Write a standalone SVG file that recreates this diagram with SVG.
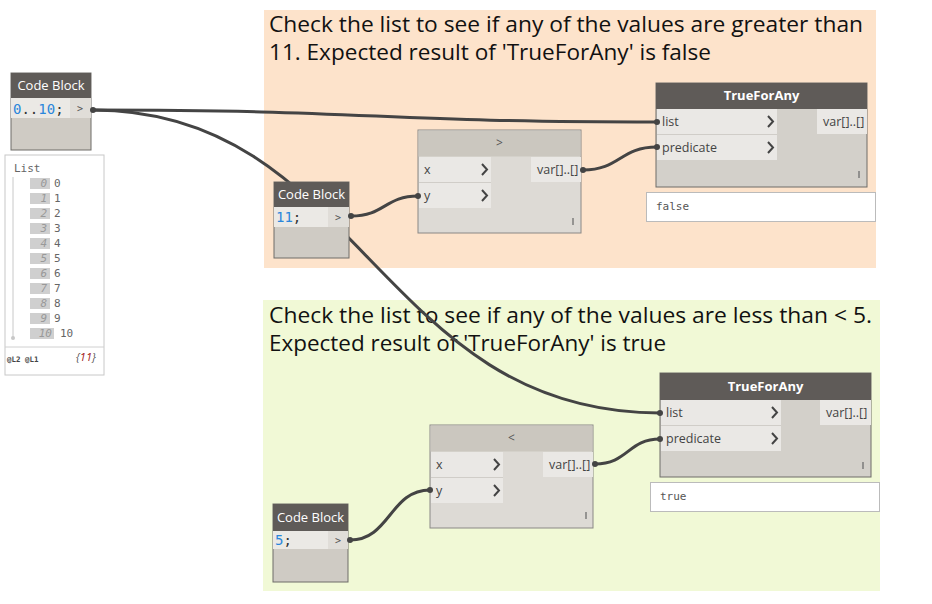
<svg xmlns="http://www.w3.org/2000/svg" width="932" height="604" viewBox="0 0 932 604">
<style>
.hdr{fill:#5f5b58}
.hdrL{fill:#cbc7bf}
.body{fill:#cfcbc4;stroke:#6e6c69;stroke-width:1}
.bodyL{fill:#dddad5;stroke:#8a8885;stroke-width:1}
.port{fill:#eae8e5}
.sep{stroke:#d0cdc8;stroke-width:1}
.ht{font-family:"Open Sans","Noto Sans",sans-serif;font-size:13px;fill:#ffffff;text-anchor:middle}
.htd{font-family:"Open Sans","Noto Sans",sans-serif;font-size:12px;fill:#555;text-anchor:middle}
.pt{font-family:"Open Sans","Noto Sans",sans-serif;font-size:12.5px;fill:#444}
.chev{fill:none;stroke:#444;stroke-width:2}
.mono{font-family:"DejaVu Sans Mono","Liberation Mono",monospace}
.note{font-family:"Open Sans","Noto Sans",sans-serif;font-size:22px;fill:#111}
.wire{fill:none;stroke:#444;stroke-width:3}
.res{fill:#fff;stroke:#bbb;stroke-width:1}
.rt{font-family:"DejaVu Sans Mono","Liberation Mono",monospace;font-size:11px;fill:#555}
.idx{fill:#cfcfcf}
.it{font-family:"DejaVu Sans Mono","Liberation Mono",monospace;font-size:11px;fill:#999;font-style:italic;text-anchor:end}
.vt{font-family:"DejaVu Sans Mono","Liberation Mono",monospace;font-size:11px;fill:#666}
</style>

<g id="group-greater">
<rect x="264" y="10" width="612" height="258" fill="#fde3cb"/>
<text class="note" x="269" y="32" textLength="594" lengthAdjust="spacingAndGlyphs">Check the list to see if any of the values are greater than</text>
<text class="note" x="269" y="60" textLength="442" lengthAdjust="spacingAndGlyphs">11. Expected result of 'TrueForAny' is false</text>
</g>
<g id="group-less">
<rect x="263" y="300" width="617" height="291" fill="#f1f9d6"/>
<text class="note" x="269" y="323" textLength="603" lengthAdjust="spacingAndGlyphs">Check the list to see if any of the values are less than &lt; 5.</text>
<text class="note" x="269" y="351" textLength="397" lengthAdjust="spacingAndGlyphs">Expected result of 'TrueForAny' is true</text>
</g>

<g id="connectors">
<path class="wire" d="M93,110 C376,110 376,122 657,122"/>
<path class="wire" d="M93,110 C360,110 380,413 660,413"/>
<path class="wire" d="M351,216 C385,216 385,196 418,196"/>
<path class="wire" d="M583,170 C620,170 620,147 657,147"/>
<path class="wire" d="M350,540 C390,540 390,490 430,490"/>
<path class="wire" d="M595,464 C628,464 628,439 660,439"/>
</g>

<g id="codeblock-range">
<rect class="body" x="11" y="73" width="80" height="77"/>
<rect class="hdr" x="11" y="73" width="80" height="25"/>
<text class="ht" x="51" y="90">Code Block</text>
<rect x="11" y="98" width="59" height="20" fill="#ebe9e5"/>
<rect x="70" y="98" width="21" height="20" fill="#e0ddd8"/>
<text class="mono" x="13" y="114" font-size="14"><tspan fill="#2a86db">0</tspan><tspan fill="#333">..</tspan><tspan fill="#2a86db">10</tspan><tspan fill="#333">;</tspan></text>
<text class="mono" x="77" y="112" font-size="10" fill="#555">&gt;</text>
<circle cx="93" cy="110" r="3" fill="#444"/>
</g>

<g id="watch-list">
<rect x="5" y="155" width="99" height="220" fill="#fff" stroke="#c8c8c8"/>
<line x1="5" y1="347" x2="104" y2="347" stroke="#d0d0d0"/>
<text class="vt" x="14" y="172">List</text>
<line x1="13" y1="177" x2="13" y2="337" stroke="#c8c8c8"/>
<circle cx="13" cy="338" r="2" fill="#c8c8c8"/>
<g>
<rect class="idx" x="30" y="178" width="20" height="11"/><text class="it" x="47" y="187">0</text><text class="vt" x="54" y="187">0</text>
<rect class="idx" x="30" y="193" width="20" height="11"/><text class="it" x="47" y="202">1</text><text class="vt" x="54" y="202">1</text>
<rect class="idx" x="30" y="208" width="20" height="11"/><text class="it" x="47" y="217">2</text><text class="vt" x="54" y="217">2</text>
<rect class="idx" x="30" y="223" width="20" height="11"/><text class="it" x="47" y="232">3</text><text class="vt" x="54" y="232">3</text>
<rect class="idx" x="30" y="238" width="20" height="11"/><text class="it" x="47" y="247">4</text><text class="vt" x="54" y="247">4</text>
<rect class="idx" x="30" y="253" width="20" height="11"/><text class="it" x="47" y="262">5</text><text class="vt" x="54" y="262">5</text>
<rect class="idx" x="30" y="268" width="20" height="11"/><text class="it" x="47" y="277">6</text><text class="vt" x="54" y="277">6</text>
<rect class="idx" x="30" y="283" width="20" height="11"/><text class="it" x="47" y="292">7</text><text class="vt" x="54" y="292">7</text>
<rect class="idx" x="30" y="298" width="20" height="11"/><text class="it" x="47" y="307">8</text><text class="vt" x="54" y="307">8</text>
<rect class="idx" x="30" y="313" width="20" height="11"/><text class="it" x="47" y="322">9</text><text class="vt" x="54" y="322">9</text>
<rect class="idx" x="30" y="328" width="24" height="11"/><text class="it" x="52" y="337">10</text><text class="vt" x="60" y="337">10</text>
</g>
<text x="7" y="362" font-family="DejaVu Sans Mono,monospace" font-size="7.5" font-weight="bold" fill="#444">@L2 @L1</text>
<text x="76" y="361" font-family="Open Sans,sans-serif" font-size="11" font-style="italic" fill="#555">{<tspan fill="#a01818">11</tspan>}</text>
</g>

<g id="codeblock-11">
<rect class="body" x="274" y="182" width="75" height="76"/>
<rect class="hdr" x="274" y="182" width="75" height="25"/>
<text class="ht" x="311.5" y="199">Code Block</text>
<rect x="274" y="207" width="54" height="20" fill="#ebe9e5"/>
<rect x="328" y="207" width="21" height="20" fill="#e0ddd8"/>
<text class="mono" x="276" y="222" font-size="14"><tspan fill="#2a86db">11</tspan><tspan fill="#333">;</tspan></text>
<text class="mono" x="335" y="221" font-size="10" fill="#555">&gt;</text>
<circle cx="351" cy="216" r="3" fill="#444"/>
</g>

<g id="greater-node">
<rect class="bodyL" x="418" y="130" width="163" height="103"/>
<rect class="hdrL" x="418.5" y="130.5" width="162" height="26"/>
<text class="htd" x="499.5" y="147">&gt;</text>
<rect class="port" x="419" y="157" width="72" height="25"/>
<rect class="port" x="419" y="183" width="72" height="25"/>
<line class="sep" x1="419" y1="182.5" x2="491" y2="182.5"/>
<text class="pt" x="424" y="174">x</text>
<text class="pt" x="424" y="200">y</text>
<path class="chev" d="M482,164 L487,169.5 L482,175"/>
<path class="chev" d="M482,190 L487,195.5 L482,201"/>
<rect class="port" x="531" y="157" width="50" height="25"/>
<text class="pt" x="537" y="174">var[]..[]</text>
<line x1="573" y1="218" x2="573" y2="225" stroke="#666" stroke-width="1.2"/>
<circle cx="418" cy="196" r="3" fill="#444"/>
<circle cx="583" cy="170" r="3" fill="#444"/>
</g>

<g id="trueforany-1">
<rect class="bodyL" x="656" y="83" width="211" height="104" style="fill:#d3d0ca;stroke:#6e6c69"/>
<rect class="hdr" x="656" y="83" width="211" height="26"/>
<text class="ht" x="761.5" y="100" font-size="12" font-weight="bold">TrueForAny</text>
<rect class="port" x="657" y="109" width="120" height="25"/>
<rect class="port" x="657" y="135" width="120" height="25"/>
<line class="sep" x1="657" y1="134.5" x2="777" y2="134.5"/>
<text class="pt" x="662" y="126">list</text>
<text class="pt" x="662" y="152">predicate</text>
<path class="chev" d="M768,116 L773,121.5 L768,127"/>
<path class="chev" d="M768,142 L773,147.5 L768,153"/>
<rect class="port" x="817" y="109" width="50" height="25"/>
<text class="pt" x="823" y="126">var[]..[]</text>
<line x1="859" y1="171" x2="859" y2="178" stroke="#666" stroke-width="1.2"/>
<circle cx="657" cy="122" r="3" fill="#444"/>
<circle cx="657" cy="147" r="3" fill="#444"/>
<rect class="res" x="646.5" y="192.5" width="229" height="29"/>
<text class="rt" x="656" y="210">false</text>
</g>

<g id="less-node">
<rect class="bodyL" x="430" y="425" width="163" height="103"/>
<rect class="hdrL" x="430.5" y="425.5" width="162" height="26"/>
<text class="htd" x="511.5" y="442">&lt;</text>
<rect class="port" x="431" y="452" width="72" height="25"/>
<rect class="port" x="431" y="478" width="72" height="25"/>
<line class="sep" x1="431" y1="477.5" x2="503" y2="477.5"/>
<text class="pt" x="436" y="469">x</text>
<text class="pt" x="436" y="495">y</text>
<path class="chev" d="M494,459 L499,464.5 L494,470"/>
<path class="chev" d="M494,485 L499,490.5 L494,496"/>
<rect class="port" x="543" y="452" width="50" height="25"/>
<text class="pt" x="549" y="469">var[]..[]</text>
<line x1="586" y1="512" x2="586" y2="519" stroke="#666" stroke-width="1.2"/>
<circle cx="430" cy="490" r="3" fill="#444"/>
<circle cx="595" cy="464" r="3" fill="#444"/>
</g>

<g id="codeblock-5">
<rect class="body" x="273" y="504" width="75" height="78"/>
<rect class="hdr" x="273" y="504" width="75" height="27"/>
<text class="ht" x="310.5" y="522">Code Block</text>
<rect x="273" y="531" width="55" height="18" fill="#ebe9e5"/>
<rect x="328" y="531" width="20" height="18" fill="#e0ddd8"/>
<text class="mono" x="275" y="545" font-size="14"><tspan fill="#2a86db">5</tspan><tspan fill="#333">;</tspan></text>
<text class="mono" x="335" y="544" font-size="10" fill="#555">&gt;</text>
<circle cx="350" cy="540" r="3" fill="#444"/>
</g>

<g id="trueforany-2">
<rect class="bodyL" x="660" y="373" width="211" height="104" style="fill:#d3d0ca;stroke:#6e6c69"/>
<rect class="hdr" x="660" y="373" width="211" height="27"/>
<text class="ht" x="765.5" y="391" font-size="12" font-weight="bold">TrueForAny</text>
<rect class="port" x="661" y="400" width="120" height="25"/>
<rect class="port" x="661" y="426" width="120" height="25"/>
<line class="sep" x1="661" y1="425.5" x2="781" y2="425.5"/>
<text class="pt" x="666" y="417">list</text>
<text class="pt" x="666" y="443">predicate</text>
<path class="chev" d="M772,407 L777,412.5 L772,418"/>
<path class="chev" d="M772,433 L777,438.5 L772,444"/>
<rect class="port" x="820" y="400" width="51" height="25"/>
<text class="pt" x="826" y="417">var[]..[]</text>
<line x1="863" y1="462" x2="863" y2="469" stroke="#666" stroke-width="1.2"/>
<circle cx="660" cy="413" r="3" fill="#444"/>
<circle cx="660" cy="439" r="3" fill="#444"/>
<rect class="res" x="650.5" y="482.5" width="229" height="29"/>
<text class="rt" x="660" y="500">true</text>
</g>
</svg>
